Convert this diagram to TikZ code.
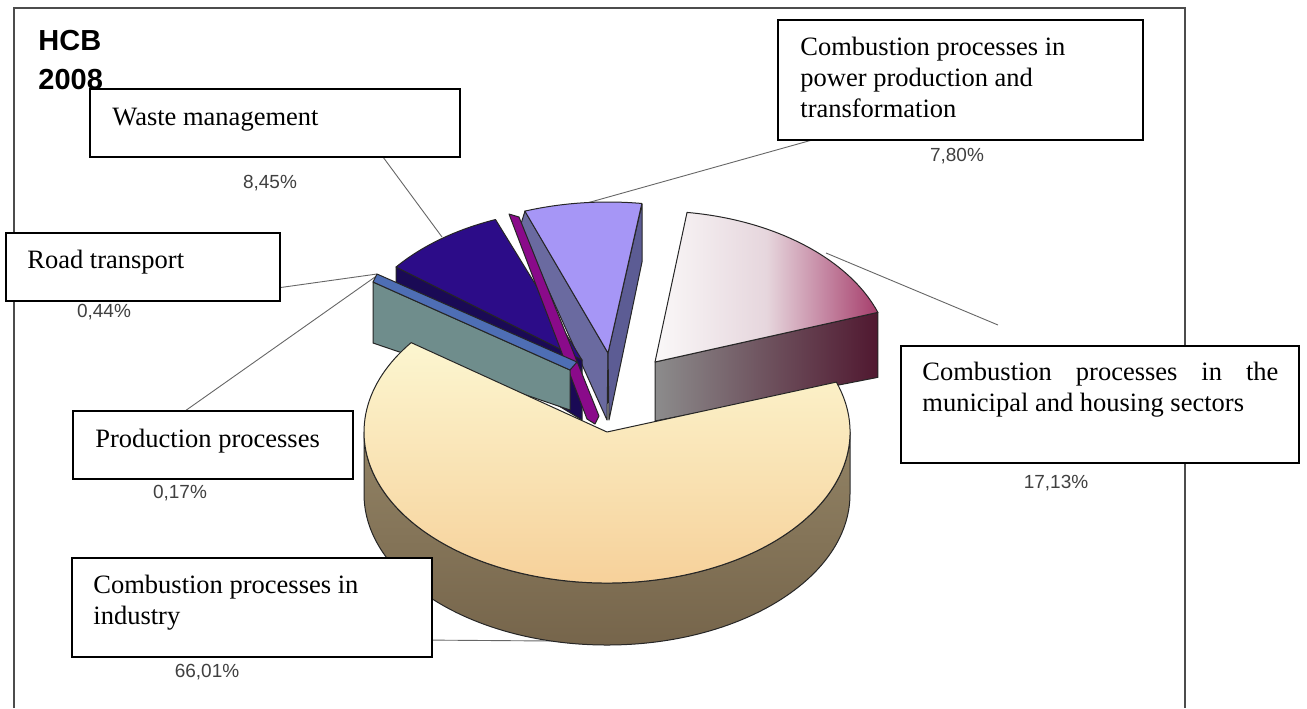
\documentclass[tikz,border=0pt]{standalone}
\usepackage{fontspec}
\setmainfont{Liberation Serif}
\setsansfont{Liberation Sans}
\usetikzlibrary{backgrounds}
\definecolor{ylwtop}{RGB}{252,246,208}
\definecolor{ylwbot}{RGB}{246,206,150}
\definecolor{ylwsidetop}{RGB}{146,131,101}
\definecolor{ylwsidebot}{RGB}{118,101,75}
\definecolor{pinkL}{RGB}{250,248,248}
\definecolor{pinkM}{RGB}{230,214,221}
\definecolor{pinkR}{RGB}{166,62,108}
\definecolor{pinksideL}{RGB}{140,140,140}
\definecolor{pinksideR}{RGB}{80,24,48}
\definecolor{lav}{RGB}{166,150,246}
\definecolor{lavL}{RGB}{106,106,160}
\definecolor{lavR}{RGB}{92,92,148}
\definecolor{magen}{RGB}{138,10,138}
\definecolor{navytop}{RGB}{44,12,136}
\definecolor{navyside}{RGB}{26,10,85}
\definecolor{thinblue}{RGB}{78,110,181}
\definecolor{tealface}{RGB}{111,141,140}
\definecolor{pctgray}{RGB}{64,64,64}
\begin{document}
\begin{tikzpicture}[x=0.5pt,y=-0.5pt,
  pieedge/.style={draw=black!85,line width=0.5pt,line join=round},
  lbox/.style={draw=black,line width=1pt,fill=white,inner sep=0pt},
  leader/.style={draw=black!60,line width=0.45pt},
  frameline/.style={draw=black!70,line width=0.7pt},
  boxtext/.style={anchor=base west,inner sep=0pt,font=\fontsize{13.25}{15.5}\selectfont},
  pct/.style={inner sep=0pt,text=pctgray,font=\sffamily\fontsize{9.5}{11}\selectfont},
  charttitle/.style={anchor=base west,inner sep=0pt,font=\sffamily\bfseries\fontsize{14.5}{17}\selectfont}]
\useasboundingbox (0,0) rectangle (1307,708);

% ---------- pie: light purple slice (7,80%)
\filldraw[pieedge,fill=lavL] (525,211) -- (608,353) -- (607,420) -- (520,227) -- cycle;
\filldraw[pieedge,fill=lavR] (642,204) -- (642,262) -- (609,420) -- (608,353) -- cycle;
\filldraw[pieedge,fill=lav] (608,353) -- ++(250:243 and 151)
  arc[start angle=250,end angle=278,x radius=243,y radius=151] -- cycle;

% ---------- pink slice (17,13%)
\shade[left color=pinksideL,right color=pinksideR] (655,362) -- ++(340.8:236 and 151) -- ++(0,65) -- (655,421) -- cycle;
\draw[pieedge] (655,362) -- ++(340.8:236 and 151) -- ++(0,65) -- (655,421) -- cycle;
\shade[left color=pinkL,right color=pinkR,middle color=pinkM] (655,362) -- ++(277.8:236 and 151)
  arc[start angle=277.8,end angle=340.8,x radius=236,y radius=151] -- cycle;
\draw[pieedge] (655,362) -- ++(277.8:236 and 151)
  arc[start angle=277.8,end angle=340.8,x radius=236,y radius=151] -- cycle;

% ---------- navy slice (8,45%)
\filldraw[pieedge,fill=navyside] (582,360) -- ++(218:236 and 151) -- ++(0,40) -- (582,420) -- cycle;
\filldraw[pieedge,fill=navytop] (582,360) -- ++(218:236 and 151)
  arc[start angle=218,end angle=248.5,x radius=236,y radius=151] -- cycle;

% ---------- magenta sliver
\filldraw[pieedge,fill=magen] (509,214) -- (519,217) -- (599,416) -- (595,424) -- (587,419) -- cycle;

% ---------- thin slices (teal face and thin blue top)
\filldraw[pieedge,fill=tealface] (373,282) -- (570,370) -- (570,410) -- (373,343) -- cycle;
\filldraw[pieedge,fill=thinblue] (373,282) -- (377,274) -- (577,362) -- (570,370) -- cycle;

% ---------- yellow slice (66,01%)
\shade[top color=ylwsidetop,bottom color=ylwsidebot] (850,432)
  arc[start angle=0,end angle=180,x radius=243,y radius=151] -- ++(0,62)
  arc[start angle=180,end angle=0,x radius=243,y radius=151] -- cycle;
\draw[pieedge] (850,432)
  arc[start angle=0,end angle=180,x radius=243,y radius=151] -- ++(0,62)
  arc[start angle=180,end angle=0,x radius=243,y radius=151] -- cycle;
\shade[top color=ylwtop,bottom color=ylwbot] (607,432) -- ++(-19.3:243 and 151)
  arc[start angle=-19.3,end angle=216.3,x radius=243,y radius=151] -- cycle;
\draw[pieedge] (607,432) -- ++(-19.3:243 and 151)
  arc[start angle=-19.3,end angle=216.3,x radius=243,y radius=151] -- cycle;

% ---------- label boxes
\node[lbox,minimum width=185pt,minimum height=34pt] (wbox) at (275,123) {};
\node[lbox,minimum width=137pt,minimum height=34pt] (rbox) at (143,267) {};
\node[lbox,minimum width=182.5pt,minimum height=60pt] (pbox) at (960.5,80) {};
\node[lbox,minimum width=199pt,minimum height=58.5pt] (mbox) at (1100,404.5) {};
\node[lbox,minimum width=140pt,minimum height=34pt] (ppbox) at (213,445) {};
\node[lbox,minimum width=180pt,minimum height=49.5pt] (ibox) at (252,607.5) {};

\node[boxtext] (wtxt) at (112,125) {Waste management};
\node[boxtext] (rtxt) at (27,268) {Road transport};
\node[boxtext] (ptxt1) at (800,55) {Combustion processes in};
\node[boxtext] (ptxt2) at (800,86) {power production and};
\node[boxtext] (ptxt3) at (800,117) {transformation};
\node[boxtext] (mtxt1) at (922,380) {\makebox[178pt][s]{Combustion processes in the}};
\node[boxtext] (mtxt2) at (922,411) {municipal and housing sectors};
\node[boxtext] (pptxt) at (95,447) {Production processes};
\node[boxtext] (itxt1) at (93,593) {Combustion processes in};
\node[boxtext] (itxt2) at (93,624) {industry};

% ---------- percentages and title
\node[pct] (p845) at (270,183) {8,45\%};
\node[pct] (p044) at (104,312) {0,44\%};
\node[pct] (p017) at (180,493) {0,17\%};
\node[pct] (p6601) at (207,672) {66,01\%};
\node[pct] (p780) at (957,156) {7,80\%};
\node[pct] (p1713) at (1056,483) {17,13\%};
\node[charttitle] (t1) at (38,50) {HCB};
\node[charttitle] (t2) at (38,89) {2008};

% ---------- leader end points
\coordinate (wA) at (383,157);  \coordinate (wB) at (442,237);
\coordinate (pA) at (830,135);  \coordinate (pB) at (587,203);
\coordinate (mA) at (998,325);  \coordinate (mB) at (826,253);
\coordinate (rA) at (270,289);  \coordinate (rB) at (377,274);
\coordinate (ppA) at (185,411); \coordinate (ppB) at (375,277);
\coordinate (iA) at (420,640);  \coordinate (iB) at (552,641);

\begin{scope}[on background layer]
\draw[frameline] (14,708) -- (14,8) -- (1185,8) -- (1185,708);
\draw[leader] (wA) -- (wB);
\draw[leader] (pA) -- (pB);
\draw[leader] (mA) -- (mB);
\draw[leader] (rA) -- (rB);
\draw[leader] (ppA) -- (ppB);
\draw[leader] (iA) -- (iB);
\end{scope}
\end{tikzpicture}
\end{document}
